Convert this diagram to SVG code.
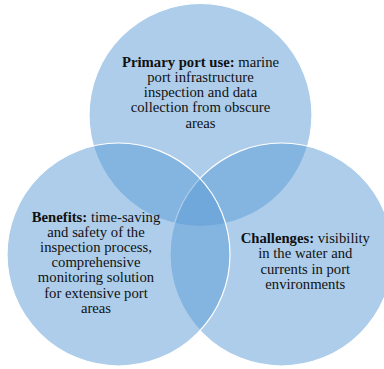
<svg xmlns="http://www.w3.org/2000/svg" width="384" height="369" viewBox="0 0 384 369">
<style>
.c{fill:#5B9BD5;fill-opacity:0.5;stroke:#FFFFFF;stroke-width:1.2}
.b{font-weight:bold}
</style>
<rect width="384" height="369" fill="#FFFFFF"/>
<g id="node-top">
<circle class="c" cx="200.5" cy="115" r="111.5"/>
</g>
<g id="node-right">
<circle class="c" cx="281.5" cy="254.5" r="111.5"/>
</g>
<g id="node-left">
<circle class="c" cx="118.5" cy="254.5" r="111.5"/>
</g>
<g id="connectors"></g>
<g id="label-top" font-family="Liberation Serif, Times New Roman, Tinos, serif" font-size="14.7" fill="#111" text-anchor="middle">
<text x="200.5" y="66.7"><tspan class="b">Primary port use:</tspan> marine</text>
<text x="200.5" y="81.9">port infrastructure</text>
<text x="200.5" y="97.1">inspection and data</text>
<text x="200.5" y="112.3">collection from obscure</text>
<text x="200.5" y="127.5">areas</text>
</g>
<g id="label-left" font-family="Liberation Serif, Times New Roman, Tinos, serif" font-size="14.7" fill="#111" text-anchor="middle">
<text x="96" y="221.5"><tspan class="b">Benefits:</tspan> time-saving</text>
<text x="96" y="236.7">and safety of the</text>
<text x="96" y="251.9">inspection process,</text>
<text x="96" y="267.1">comprehensive</text>
<text x="96" y="282.3">monitoring solution</text>
<text x="96" y="297.5">for extensive port</text>
<text x="96" y="312.7">areas</text>
</g>
<g id="label-right" font-family="Liberation Serif, Times New Roman, Tinos, serif" font-size="14.7" fill="#111" text-anchor="middle">
<text x="305.3" y="243"><tspan class="b">Challenges:</tspan> visibility</text>
<text x="305.3" y="258.4">in the water and</text>
<text x="305.3" y="273.8">currents in port</text>
<text x="305.3" y="289.2">environments</text>
</g>
</svg>
